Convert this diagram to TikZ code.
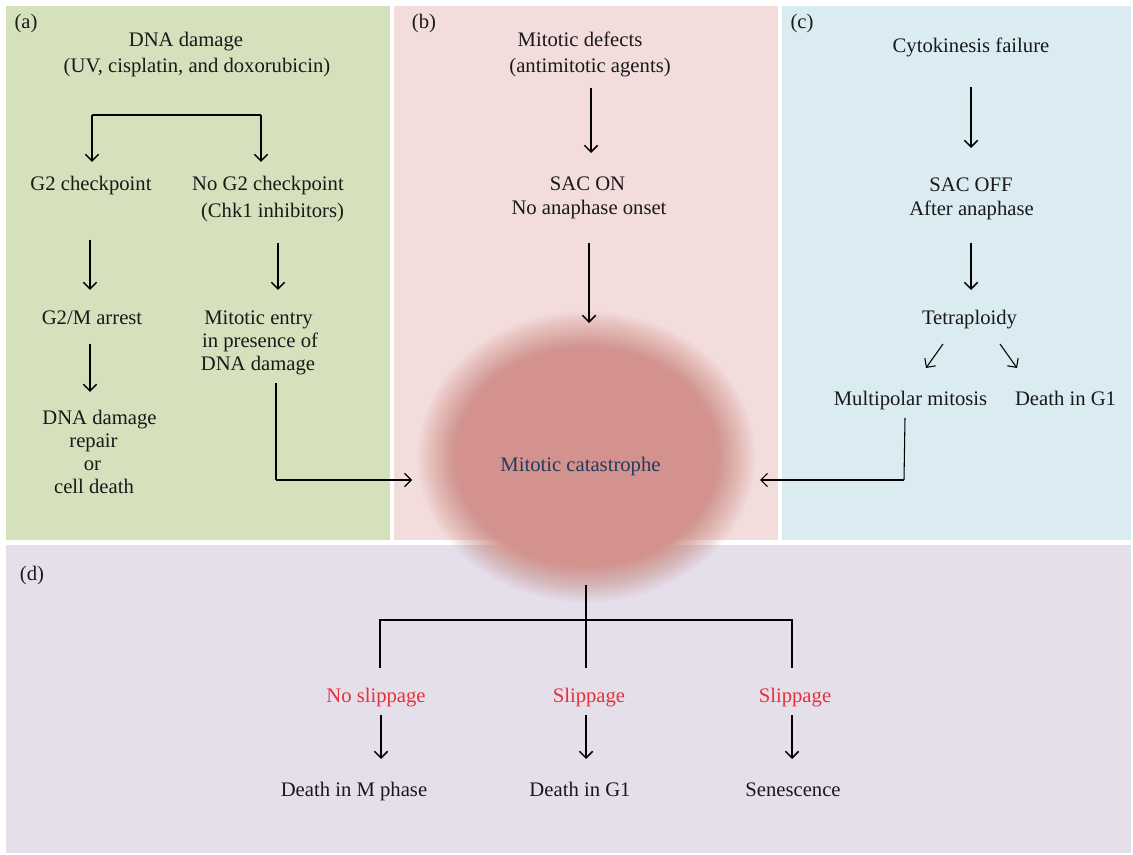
\documentclass[tikz,border=0pt]{standalone}
\usepackage{fontspec}
\setmainfont{Liberation Serif}
\usetikzlibrary{arrows.meta}
\definecolor{cA}{RGB}{213,224,189}
\definecolor{cB}{RGB}{242,220,220}
\definecolor{cC}{RGB}{218,235,242}
\definecolor{cD}{RGB}{229,223,235}
\definecolor{blobc}{RGB}{211,146,142}
\definecolor{mcblue}{RGB}{35,58,94}
\definecolor{slipred}{RGB}{232,48,56}
\tikzset{
  txt/.style={font=\fontsize{15.5}{17.5}\selectfont, inner sep=0pt, anchor=base, text=black!90},
  red txt/.style={txt, text=slipred},
  ln/.style={line width=1.1pt, line cap=butt},
  thinln/.style={line width=0.8pt},
  arr/.style={line width=1.1pt, -{Straight Barb[length=5pt,width=10pt]}},
  thinarr/.style={line width=0.8pt, -{Straight Barb[length=5pt,width=10pt]}},
}
\begin{document}
\begin{tikzpicture}[x=0.75pt,y=-0.75pt]
\useasboundingbox (0,0) rectangle (1133,855);
% panels
\fill[white] (0,0) rectangle (1133,855);
\fill[cA] (6,6) rectangle (390,540);
\fill[cB] (394,6) rectangle (778,540);
\fill[cC] (782,6) rectangle (1131,540);
\fill[cD] (6,545) rectangle (1131,853);
% blob (soft edge: stacked translucent ellipses, linear alpha ramp)
\foreach \k in {1,...,36} {
  \pgfmathsetmacro\op{1/(37-\k)}
  \pgfmathsetmacro\rx{169-(\k-1)*1.1}
  \pgfmathsetmacro\ry{146-(\k-1)*1.08}
  \fill[blobc, fill opacity=\op] (586.5,457) ellipse [x radius=\rx, y radius=\ry];
}

% labels
\node[txt] (la) at (26,29) {(a)};
\node[txt] (lb) at (424,29) {(b)};
\node[txt] (lc) at (802,29) {(c)};
\node[txt] (ld) at (32,581) {(d)};

% panel a
\node[txt] (dna1) at (186,47) {DNA damage};
\node[txt] (dna2) at (197,73) {(UV, cisplatin, and doxorubicin)};
\node[txt] (g2) at (91,191) {G2 checkpoint};
\node[txt] (nog2) at (268,191) {No G2 checkpoint};
\node[txt] (nog2b) at (272.5,218) {(Chk1 inhibitors)};
\node[txt] (g2m) at (92,325) {G2/M arrest};
\node[txt] (rep1) at (99.5,425) {DNA damage};
\node[txt] (rep2) at (93.5,448) {repair};
\node[txt] (rep3) at (92.5,471) {or};
\node[txt] (rep4) at (94,494) {cell death};
\node[txt] (ment1) at (258.5,325) {Mitotic entry};
\node[txt] (ment2) at (260,348) {in presence of};
\node[txt] (ment3) at (258,371) {DNA damage};

\coordinate (bl) at (92,115);
\coordinate (br) at (261,115);
\draw[ln] (bl) -- (br);
\draw[arr] (bl) -- (bl |- 0,162);
\draw[arr] (br) -- (br |- 0,162);
\draw[arr] (90,240) -- (90,290);
\draw[arr] (278,243) -- (278,290);
\draw[arr] (90,344) -- (90,392);
\coordinate (mentbend) at (276,480);
\draw[ln] (276,383) -- (mentbend);

% panel b
\node[txt] (mdef1) at (580,47) {Mitotic defects};
\node[txt] (mdef2) at (590,73) {(antimitotic agents)};
\node[txt] (sacon1) at (587.5,191) {SAC ON};
\node[txt] (sacon2) at (589,215) {No anaphase onset};
\node[txt, text=mcblue] (mc) at (580.5,472) {Mitotic catastrophe};
\draw[arr] (591,88) -- (591,153);
\draw[arr] (589,243) -- (589,323);
\draw[thinarr] (mentbend) -- (412,480);

% panel c
\node[txt] (cyto) at (971,53) {Cytokinesis failure};
\node[txt] (sacoff1) at (971,192) {SAC OFF};
\node[txt] (sacoff2) at (971.5,216) {After anaphase};
\node[txt] (tetra) at (969.5,325) {Tetraploidy};
\node[txt] (multi) at (910.5,406) {Multipolar mitosis};
\node[txt] (dg1c) at (1065.5,406) {Death in G1};
\draw[arr] (971,87) -- (971,148);
\draw[arr] (971,243) -- (971,290);
\draw[thinarr] (943,344) -- (926,368);
\draw[thinarr] (1000,344) -- (1017,368);
\coordinate (multibend) at (904,480);
\draw[thinln] (905,418) -- (multibend);
\draw[thinarr] (multibend) -- (760,480);

% panel d
\node[red txt] (noslip) at (376,702) {No slippage};
\node[red txt] (slip1) at (589,702) {Slippage};
\node[red txt] (slip2) at (795,702) {Slippage};
\node[txt] (dm) at (354,797) {Death in M phase};
\node[txt] (dg1) at (580,797) {Death in G1};
\node[txt] (sen) at (793,797) {Senescence};
\draw[ln] (380,668) -- (380,620) -- (792,620) -- (792,668);
\draw[ln] (586,585) -- (586,668);
\draw[arr] (381,715) -- (381,759);
\draw[arr] (586,715) -- (586,759);
\draw[arr] (792,715) -- (792,759);
\end{tikzpicture}
\end{document}
